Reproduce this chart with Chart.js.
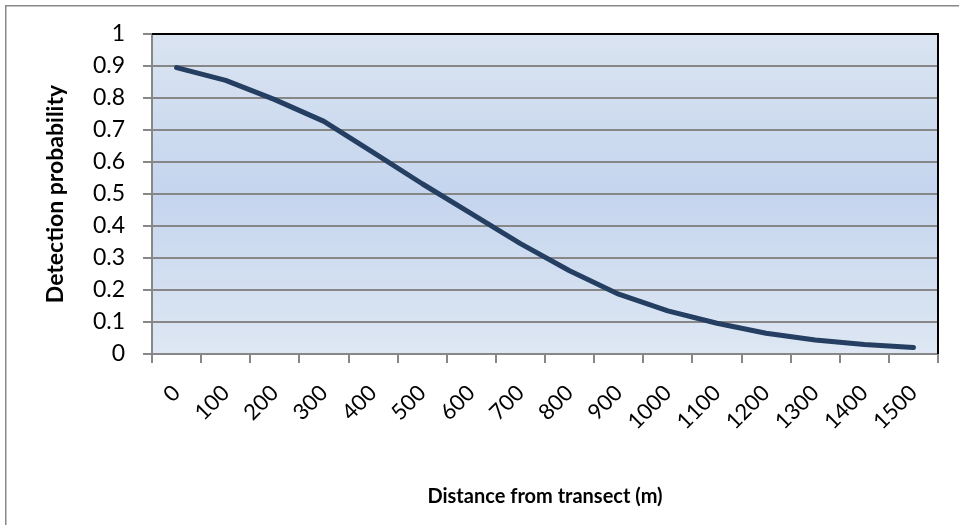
<!DOCTYPE html>
<html>
<head>
<meta charset="utf-8">
<script src="https://cdn.jsdelivr.net/npm/chart.js@4.4.1/dist/chart.umd.min.js"></script>
<style>
  html, body { margin: 0; padding: 0; background: #ffffff; overflow: hidden; }
  #wrap { position: relative; width: 959px; height: 525px; }
  canvas { display: block; }
</style>
</head>
<body>
<div id="wrap"><canvas id="chart" width="959" height="525"></canvas></div>
<script>
// Distance classes (m) along the category axis
const distances = ['0', '100', '200', '300', '400', '500', '600', '700',
                   '800', '900', '1000', '1100', '1200', '1300', '1400', '1500'];
// Detection probability at each distance
const detectionProb = [0.895, 0.855, 0.795, 0.727, 0.630, 0.532, 0.439, 0.345,
                       0.260, 0.187, 0.135, 0.096, 0.065, 0.044, 0.030, 0.020];
// Value-axis ticks
const yTicks = [0, 0.1, 0.2, 0.3, 0.4, 0.5, 0.6, 0.7, 0.8, 0.9, 1];

const GRID = '#878787';

// Gradient plot background, outer frame and dark top/right plot edges
const decor = {
  id: 'decor',
  beforeDraw(chart) {
    const { ctx, chartArea: a } = chart;
    ctx.save();
    // outer chart frame
    ctx.strokeStyle = '#888888';
    ctx.lineWidth = 1.5;
    ctx.beginPath();
    ctx.moveTo(5.75, 2000);
    ctx.lineTo(5.75, 5.75);
    ctx.lineTo(2000, 5.75);
    ctx.stroke();
    // plot area fill
    const g = ctx.createLinearGradient(0, a.top, 0, a.bottom);
    g.addColorStop(0, '#dae4f1');
    g.addColorStop(0.5, '#c5d5ee');
    g.addColorStop(1, '#dee7f3');
    ctx.fillStyle = g;
    ctx.fillRect(a.left, a.top, a.right - a.left, a.bottom - a.top);
    ctx.restore();
  },
  afterDatasetsDraw(chart) {
    const { ctx, chartArea: a } = chart;
    ctx.save();
    ctx.strokeStyle = '#000000';
    ctx.lineWidth = 2;
    ctx.beginPath();
    ctx.moveTo(a.left, a.top);
    ctx.lineTo(a.right, a.top);
    ctx.lineTo(a.right, a.bottom);
    ctx.stroke();
    ctx.restore();
  }
};

new Chart(document.getElementById('chart'), {
  type: 'line',
  data: {
    labels: distances,
    datasets: [{
      data: detectionProb,
      borderColor: '#243f61',
      borderWidth: 5,
      borderCapStyle: 'round',
      borderJoinStyle: 'round',
      pointRadius: 0,
      pointHoverRadius: 0,
      tension: 0,
      fill: false
    }]
  },
  options: {
    responsive: false,
    animation: false,
    devicePixelRatio: 1,
    layout: { padding: { top: 34, right: 21, left: 0, bottom: 0 } },
    plugins: { legend: { display: false }, tooltip: { enabled: false } },
    scales: {
      x: {
        type: 'category',
        offset: true,
        grid: {
          offset: true,
          drawOnChartArea: false,
          drawTicks: true,
          tickLength: 9,
          color: GRID,
          lineWidth: 2
        },
        border: { display: true, color: GRID, width: 2 },
        ticks: {
          autoSkip: false,
          maxRotation: 45,
          minRotation: 45,
          padding: 17,
          color: '#000000',
          font: { family: 'Lato', size: 22 }
        },
        title: {
          display: true,
          text: 'Distance from transect (m)',
          color: '#000000',
          font: { family: 'Lato', size: 20, weight: 'bold' },
          padding: { top: 0, bottom: 16 }
        },
        afterFit(s) { s.height = 171; }
      },
      y: {
        min: 0,
        max: 1,
        afterBuildTicks(s) { s.ticks = yTicks.map(v => ({ value: v })); },
        grid: {
          drawTicks: true,
          tickLength: 9,
          color: GRID,
          lineWidth: 2
        },
        border: { display: true, color: GRID, width: 2 },
        ticks: {
          padding: 18,
          color: '#000000',
          font: { family: 'Lato', size: 23 },
          callback: v => String(v)
        },
        title: {
          display: true,
          text: 'Detection probability',
          color: '#000000',
          font: { family: 'Lato', size: 23, weight: 'bold' },
          padding: { top: 42, bottom: 0 }
        },
        afterFit(s) { s.width = 152; }
      }
    }
  },
  plugins: [decor]
});
</script>
</body>
</html>
